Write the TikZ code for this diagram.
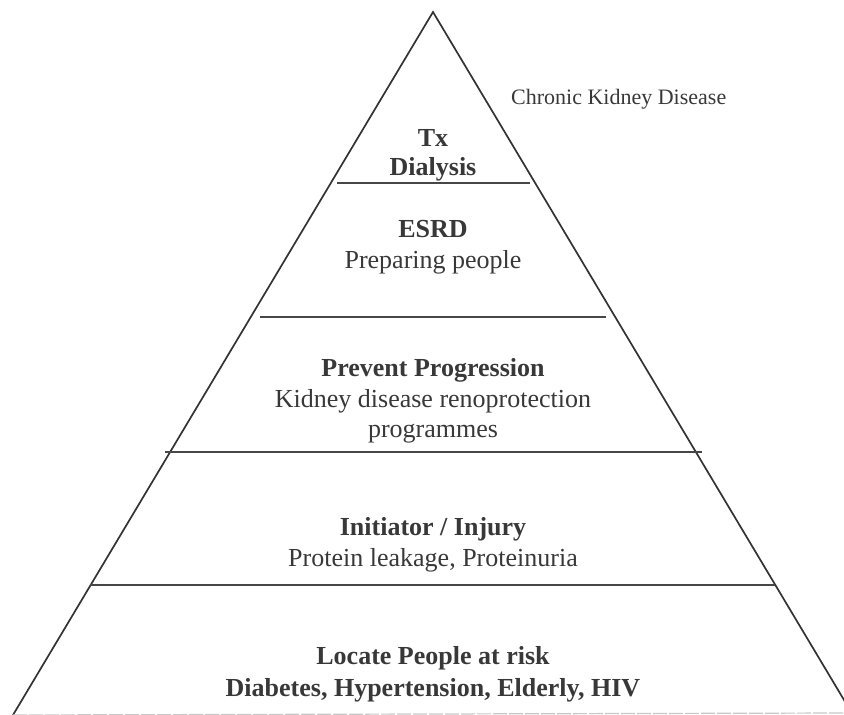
\documentclass[tikz,border=0pt]{standalone}
\usepackage{fontspec}
\setmainfont{Liberation Serif}
\begin{document}
\begin{tikzpicture}[x=1pt,y=-1pt,
  edge/.style={line width=1.7pt, draw=black!80, line cap=round},
  tierline/.style={line width=1.8pt, draw=black!72},
  baseline rule/.style={line width=1.2pt, draw=black!22, dash pattern=on 14pt off 2pt},
  head/.style={font=\fontsize{26}{31}\selectfont\bfseries, text=black!78, inner sep=0pt, anchor=base},
  body/.style={font=\fontsize{26}{31}\selectfont, text=black!78, inner sep=0pt, anchor=base},
  side/.style={font=\fontsize{22}{27}\selectfont, text=black!78, inner sep=0pt, anchor=base west}]
\useasboundingbox (0,0) rectangle (844,715);
\clip (0,0) rectangle (844,715);

% outline of the pyramid
\coordinate (apex) at (433,12);
\coordinate (bl) at (13,715);
\coordinate (br) at (853,715);
\draw[edge] (bl) -- (apex) -- (br);
\draw[baseline rule] (bl) -- (844,713);

% tier separators
\coordinate (s1l) at (337,183);  \coordinate (s1r) at (530,183);
\coordinate (s2l) at (260,317);  \coordinate (s2r) at (606,317);
\coordinate (s3l) at (165,452);  \coordinate (s3r) at (702,452);
\coordinate (s4l) at (90,585);   \coordinate (s4r) at (775,585);
\draw[tierline] (s1l) -- (s1r);
\draw[tierline] (s2l) -- (s2r);
\draw[tierline] (s3l) -- (s3r);
\draw[tierline] (s4l) -- (s4r);

% side label
\node[side] (ckd) at (511,104) {Chronic Kidney Disease};

% tier 1
\node[head] (t1a) at (433,146) {Tx};
\node[head] (t1b) at (433,175) {Dialysis};
% tier 2
\node[head] (t2a) at (433,237) {ESRD};
\node[body] (t2b) at (433,268) {Preparing people};
% tier 3
\node[head] (t3a) at (433,376) {Prevent Progression};
\node[body] (t3b) at (433,407) {Kidney disease renoprotection};
\node[body] (t3c) at (433,437) {programmes};
% tier 4
\node[head] (t4a) at (433,535) {Initiator / Injury};
\node[body] (t4b) at (433,566) {Protein leakage, Proteinuria};
% tier 5
\node[head] (t5a) at (433,664) {Locate People at risk};
\node[head] (t5b) at (433,696) {Diabetes, Hypertension, Elderly, HIV};
\end{tikzpicture}
\end{document}
